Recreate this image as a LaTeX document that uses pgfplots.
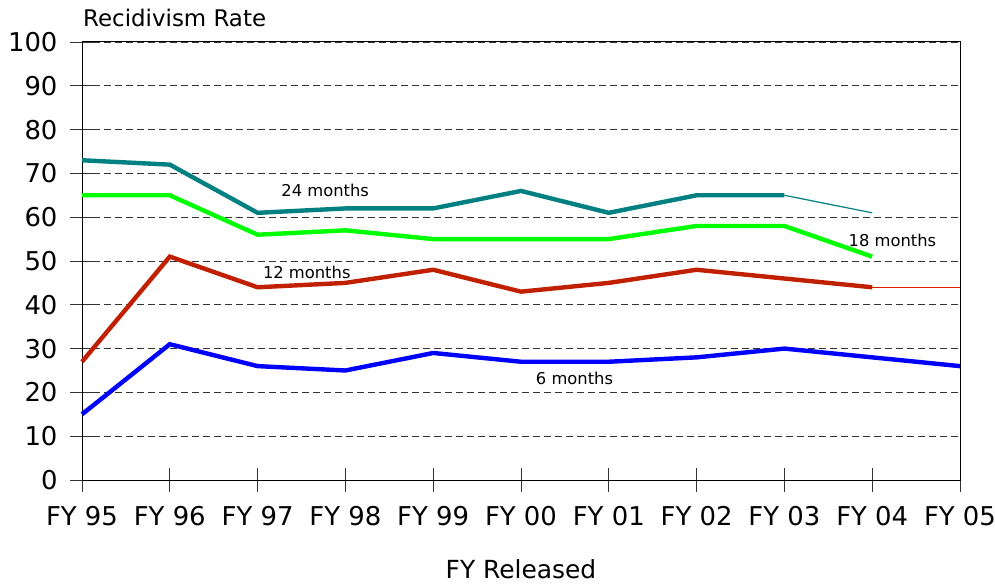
\documentclass[border=0pt]{standalone}
\usepackage{fontspec}
\setmainfont{DejaVu Sans}
\usepackage{pgfplots}
\pgfplotsset{compat=1.18}
\usetikzlibrary{calc}
\definecolor{cteal}{RGB}{0,128,128}
\definecolor{cgreen}{RGB}{0,255,0}
\definecolor{cred}{RGB}{192,32,0}
\definecolor{cthinred}{RGB}{220,30,0}
\definecolor{cblue}{RGB}{0,0,255}
\begin{document}
\begin{tikzpicture}
\begin{axis}[name=ax, scale only axis, width=878bp, height=438bp,
  xmin=0, xmax=10, ymin=0, ymax=100,
  xtick={0,...,10},
  xticklabels={FY 95,FY 96,FY 97,FY 98,FY 99,FY 00,FY 01,FY 02,FY 03,FY 04,FY 05},
  ytick={0,10,...,100},
  xtick pos=bottom, ytick pos=left,
  ymajorgrids, grid style={black!80, line width=0.8pt, dash pattern=on 7bp off 4bp},
  tick align=center, major tick length=24bp,
  tick style={black!80, line width=0.8pt},
  axis line style={black, line width=1pt},
  ticklabel style={font=\fontsize{26}{30}\selectfont},
  xticklabel style={yshift=-11bp},
  yticklabel style={xshift=-9bp},
  /pgf/number format/assume math mode=true,
  clip=false]
\addplot[cteal, line width=4.4bp] coordinates {(0,73)(1,72)(2,61)(3,62)(4,62)(5,66)(6,61)(7,65)(8,65)};
\addplot[cteal, line width=1.2bp] coordinates {(8,65)(9,61)};
\addplot[cgreen, line width=4.4bp] coordinates {(0,65)(1,65)(2,56)(3,57)(4,55)(5,55)(6,55)(7,58)(8,58)(9,51)};
\addplot[cred, line width=4.4bp] coordinates {(0,27)(1,51)(2,44)(3,45)(4,48)(5,43)(6,45)(7,48)(8,46)(9,44)};
\addplot[cthinred, line width=1.4bp] coordinates {(9,44)(10,44)};
\addplot[cblue, line width=4.4bp] coordinates {(0,15)(1,31)(2,26)(3,25)(4,29)(5,27)(6,27)(7,28)(8,30)(9,28)(10,26)};
\node[font=\fontsize{16.4}{19}\selectfont] at (axis cs:2.77,66.2) {24 months};
\node[font=\fontsize{16.4}{19}\selectfont] at (axis cs:2.56,47.5) {12 months};
\node[font=\fontsize{16.4}{19}\selectfont] at (axis cs:9.23,54.8) {18 months};
\node[font=\fontsize{16.4}{19}\selectfont] at (axis cs:5.61,23.3) {6 months};
\end{axis}
\node[anchor=base west, font=\fontsize{23}{27}\selectfont, inner sep=0pt] at ($(ax.north west)+(1bp,15bp)$) {Recidivism Rate};
\node[anchor=base, font=\fontsize{25}{29}\selectfont, inner sep=0pt] at ($(ax.south)+(0,-98bp)$) {FY Released};
\pgfresetboundingbox
\useasboundingbox ($(ax.south west)+(-82bp,-106bp)$) rectangle ($(ax.north east)+(35bp,42bp)$);
\end{tikzpicture}
\end{document}
